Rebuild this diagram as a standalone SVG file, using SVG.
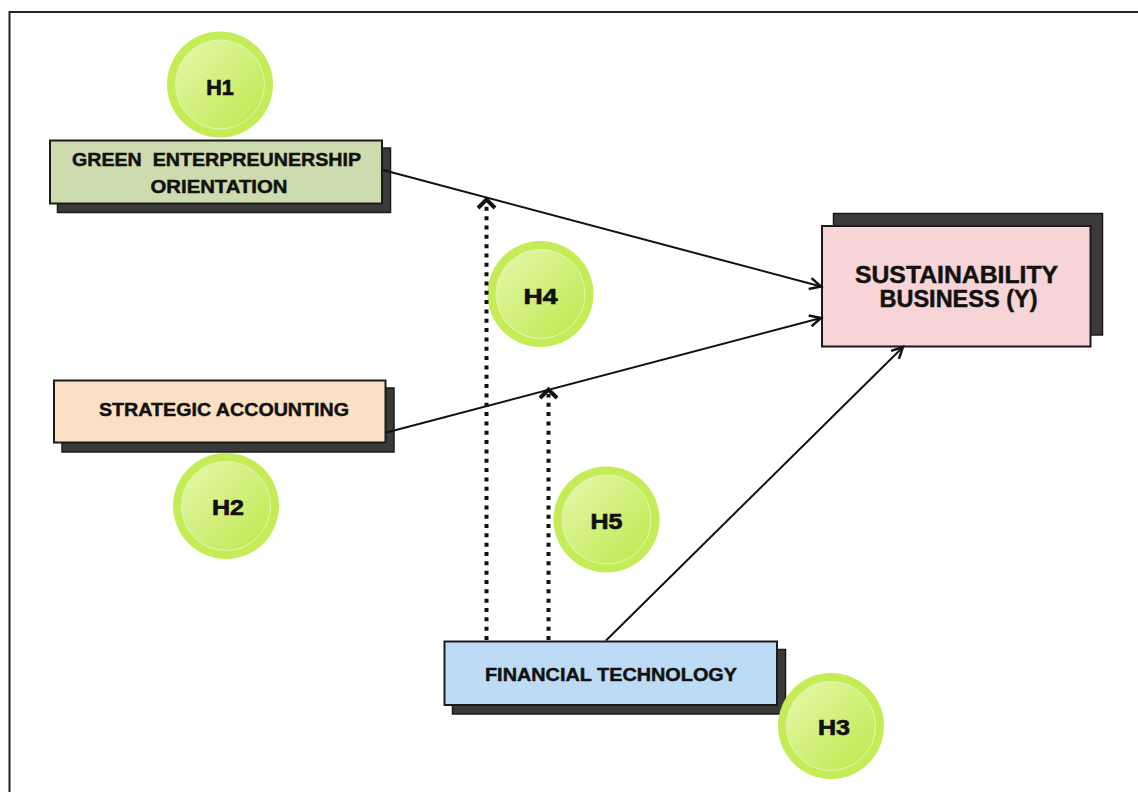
<svg xmlns="http://www.w3.org/2000/svg" width="1138" height="792" viewBox="0 0 1138 792">
<style>
text{font-family:"Liberation Sans","Noto Sans",Arial,sans-serif;font-weight:700;fill:#111;stroke:#111;stroke-width:0.45;text-anchor:middle}
.lbl{font-size:18px}
.big{font-size:23px}
.h{font-size:22.5px;stroke-width:0.7}
.box{stroke:#1a1a1a;stroke-width:2}
.shadow{fill:#3a3a3a;stroke:#1a1a1a;stroke-width:1.5}
.outer{fill:#c4ec57}
.inner{fill:url(#g);stroke:#e4f6b4;stroke-width:1}
.con{stroke:#111;stroke-width:2;fill:none}
.dot{stroke:#111;stroke-width:4;fill:none;stroke-dasharray:4 5.33}
.chev{fill:none;stroke:#111;stroke-width:4;stroke-linejoin:miter}
</style>
<defs>
<linearGradient id="g" x1="0" y1="0" x2="1" y2="1">
<stop offset="0" stop-color="#e6f7ad"/>
<stop offset="1" stop-color="#bde84a"/>
</linearGradient>
<marker id="arr" markerUnits="userSpaceOnUse" markerWidth="20" markerHeight="20" viewBox="-12 -8 14 16" refX="0" refY="0" orient="auto">
<path d="M-9,-4.5 L0,0 L-9,4.5" fill="none" stroke="#111" stroke-width="2"/>
</marker>
</defs>
<rect x="0" y="0" width="1138" height="792" fill="#fff"/>
<rect x="9.5" y="12" width="1200" height="900" fill="none" stroke="#222" stroke-width="2"/>

<g id="green">
<rect class="shadow" x="57.5" y="148" width="333" height="64.5"/>
<rect class="box" x="50" y="140.5" width="332" height="63" fill="#cddcae"/>
<text class="lbl" x="216.5" y="166" textLength="289" lengthAdjust="spacingAndGlyphs" style="white-space:pre" xml:space="preserve">GREEN  ENTERPREUNERSHIP</text>
<text class="lbl" x="219" y="192.5" textLength="137" lengthAdjust="spacingAndGlyphs">ORIENTATION</text>
</g>

<g id="strategic">
<rect class="shadow" x="62" y="388" width="332" height="64"/>
<rect class="box" x="54" y="380.5" width="331.5" height="62" fill="#fbe0c3"/>
<text class="lbl" x="224" y="415.5" textLength="250" lengthAdjust="spacingAndGlyphs">STRATEGIC ACCOUNTING</text>
</g>

<g id="fintech">
<rect class="shadow" x="452.5" y="649.5" width="333" height="64.5"/>
<rect class="box" x="444.5" y="641.5" width="332.5" height="63.5" fill="#bedbf5"/>
<text class="lbl" x="611" y="680.5" textLength="252" lengthAdjust="spacingAndGlyphs">FINANCIAL TECHNOLOGY</text>
</g>

<g id="sustain">
<rect class="shadow" x="833.5" y="213.5" width="269" height="121.5"/>
<rect class="box" x="822" y="226" width="268.5" height="120.5" fill="#f7d4d5"/>
<text class="big" x="956.5" y="283" textLength="203" lengthAdjust="spacingAndGlyphs">SUSTAINABILITY</text>
<text class="big" x="958.5" y="306.5" textLength="158" lengthAdjust="spacingAndGlyphs">BUSINESS (Y)</text>
</g>

<g id="h1">
<circle class="outer" cx="220" cy="84.5" r="53"/>
<circle class="inner" cx="220" cy="84.5" r="44.5"/>
<text class="h" x="220" y="95" textLength="27.5" lengthAdjust="spacingAndGlyphs">H1</text>
</g>
<g id="h2">
<circle class="outer" cx="226" cy="506" r="53"/>
<circle class="inner" cx="226" cy="506" r="44.5"/>
<text class="h" x="228" y="514.5" textLength="32" lengthAdjust="spacingAndGlyphs">H2</text>
</g>
<g id="h3">
<circle class="outer" cx="831" cy="726" r="53"/>
<circle class="inner" cx="831" cy="726" r="44.5"/>
<text class="h" x="834" y="735" textLength="32" lengthAdjust="spacingAndGlyphs">H3</text>
</g>
<g id="h4">
<circle class="outer" cx="540.5" cy="294" r="53"/>
<circle class="inner" cx="540.5" cy="294" r="44.5"/>
<text class="h" x="540.5" y="303.5" textLength="34" lengthAdjust="spacingAndGlyphs">H4</text>
</g>
<g id="h5">
<circle class="outer" cx="606.5" cy="519.5" r="53"/>
<circle class="inner" cx="606.5" cy="519.5" r="44.5"/>
<text class="h" x="606.5" y="528.5" textLength="32" lengthAdjust="spacingAndGlyphs">H5</text>
</g>

<g id="connectors">
<line class="con" x1="383" y1="170" x2="821" y2="286.5" marker-end="url(#arr)"/>
<line class="con" x1="386.5" y1="432.5" x2="821" y2="318" marker-end="url(#arr)"/>
<line class="con" x1="606" y1="640.5" x2="903" y2="347" marker-end="url(#arr)"/>
<line class="dot" x1="486.5" y1="640" x2="486.5" y2="204"/>
<polyline class="chev" points="478,208 486.5,199.5 495,208"/>
<line class="dot" x1="548.5" y1="640" x2="548.5" y2="394"/>
<polyline class="chev" points="540,398 548.5,389.5 557,398"/>
</g>
</svg>
